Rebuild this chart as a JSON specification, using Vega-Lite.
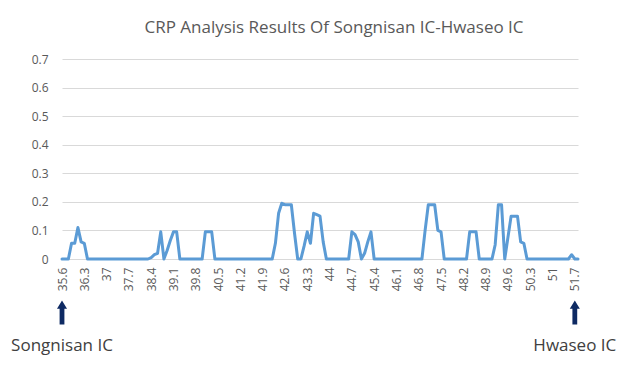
{
  "$schema": "https://vega.github.io/schema/vega-lite/v6.json",
  "autosize": {"type": "none"},
  "padding": {"left": 62, "top": 59, "right": 53, "bottom": 107},
  "width": 516,
  "height": 200,
  "background": "white",
  "config": {"view": {"stroke": null}, "font": "Open Sans"},
  "title": {"text": "CRP Analysis Results Of Songnisan IC-Hwaseo IC", "fontSize": 17, "fontWeight": "normal", "font": "Open Sans", "color": "#595959", "offset": 16, "dx": 14},
  "datasets": {
    "crp": [
      {"km":35.6,"crp":0},{"km":35.7,"crp":0},{"km":35.8,"crp":0},{"km":35.9,"crp":0.055},{"km":36.0,"crp":0.055},{"km":36.1,"crp":0.11},{"km":36.2,"crp":0.06},{"km":36.3,"crp":0.055},{"km":36.4,"crp":0},{"km":36.5,"crp":0},
      {"km":36.6,"crp":0},{"km":36.7,"crp":0},{"km":36.8,"crp":0},{"km":36.9,"crp":0},{"km":37.0,"crp":0},{"km":37.1,"crp":0},{"km":37.2,"crp":0},{"km":37.3,"crp":0},{"km":37.4,"crp":0},{"km":37.5,"crp":0},
      {"km":37.6,"crp":0},{"km":37.7,"crp":0},{"km":37.8,"crp":0},{"km":37.9,"crp":0},{"km":38.0,"crp":0},{"km":38.1,"crp":0},{"km":38.2,"crp":0},{"km":38.3,"crp":0},{"km":38.4,"crp":0.005},{"km":38.5,"crp":0.015},
      {"km":38.6,"crp":0.02},{"km":38.7,"crp":0.095},{"km":38.8,"crp":0},{"km":38.9,"crp":0.03},{"km":39.0,"crp":0.065},{"km":39.1,"crp":0.095},{"km":39.2,"crp":0.095},{"km":39.3,"crp":0},{"km":39.4,"crp":0},{"km":39.5,"crp":0},
      {"km":39.6,"crp":0},{"km":39.7,"crp":0},{"km":39.8,"crp":0},{"km":39.9,"crp":0},{"km":40.0,"crp":0},{"km":40.1,"crp":0.095},{"km":40.2,"crp":0.095},{"km":40.3,"crp":0.095},{"km":40.4,"crp":0},{"km":40.5,"crp":0},
      {"km":40.6,"crp":0},{"km":40.7,"crp":0},{"km":40.8,"crp":0},{"km":40.9,"crp":0},{"km":41.0,"crp":0},{"km":41.1,"crp":0},{"km":41.2,"crp":0},{"km":41.3,"crp":0},{"km":41.4,"crp":0},{"km":41.5,"crp":0},
      {"km":41.6,"crp":0},{"km":41.7,"crp":0},{"km":41.8,"crp":0},{"km":41.9,"crp":0},{"km":42.0,"crp":0},{"km":42.1,"crp":0},{"km":42.2,"crp":0},{"km":42.3,"crp":0.055},{"km":42.4,"crp":0.16},{"km":42.5,"crp":0.195},
      {"km":42.6,"crp":0.19},{"km":42.7,"crp":0.19},{"km":42.8,"crp":0.19},{"km":42.9,"crp":0.09},{"km":43.0,"crp":0},{"km":43.1,"crp":0},{"km":43.2,"crp":0.045},{"km":43.3,"crp":0.095},{"km":43.4,"crp":0.055},{"km":43.5,"crp":0.16},
      {"km":43.6,"crp":0.155},{"km":43.7,"crp":0.15},{"km":43.8,"crp":0.06},{"km":43.9,"crp":0},{"km":44.0,"crp":0},{"km":44.1,"crp":0},{"km":44.2,"crp":0},{"km":44.3,"crp":0},{"km":44.4,"crp":0},{"km":44.5,"crp":0},
      {"km":44.6,"crp":0},{"km":44.7,"crp":0.095},{"km":44.8,"crp":0.085},{"km":44.9,"crp":0.06},{"km":45.0,"crp":0},{"km":45.1,"crp":0.02},{"km":45.2,"crp":0.06},{"km":45.3,"crp":0.095},{"km":45.4,"crp":0},{"km":45.5,"crp":0},
      {"km":45.6,"crp":0},{"km":45.7,"crp":0},{"km":45.8,"crp":0},{"km":45.9,"crp":0},{"km":46.0,"crp":0},{"km":46.1,"crp":0},{"km":46.2,"crp":0},{"km":46.3,"crp":0},{"km":46.4,"crp":0},{"km":46.5,"crp":0},
      {"km":46.6,"crp":0},{"km":46.7,"crp":0},{"km":46.8,"crp":0},{"km":46.9,"crp":0},{"km":47.0,"crp":0.1},{"km":47.1,"crp":0.19},{"km":47.2,"crp":0.19},{"km":47.3,"crp":0.19},{"km":47.4,"crp":0.1},{"km":47.5,"crp":0.095},
      {"km":47.6,"crp":0},{"km":47.7,"crp":0},{"km":47.8,"crp":0},{"km":47.9,"crp":0},{"km":48.0,"crp":0},{"km":48.1,"crp":0},{"km":48.2,"crp":0},{"km":48.3,"crp":0},{"km":48.4,"crp":0.095},{"km":48.5,"crp":0.095},
      {"km":48.6,"crp":0.095},{"km":48.7,"crp":0},{"km":48.8,"crp":0},{"km":48.9,"crp":0},{"km":49.0,"crp":0},{"km":49.1,"crp":0},{"km":49.2,"crp":0.05},{"km":49.3,"crp":0.19},{"km":49.4,"crp":0.19},{"km":49.5,"crp":0},
      {"km":49.6,"crp":0.075},{"km":49.7,"crp":0.15},{"km":49.8,"crp":0.15},{"km":49.9,"crp":0.15},{"km":50.0,"crp":0.06},{"km":50.1,"crp":0.055},{"km":50.2,"crp":0},{"km":50.3,"crp":0},{"km":50.4,"crp":0},{"km":50.5,"crp":0},
      {"km":50.6,"crp":0},{"km":50.7,"crp":0},{"km":50.8,"crp":0},{"km":50.9,"crp":0},{"km":51.0,"crp":0},{"km":51.1,"crp":0},{"km":51.2,"crp":0},{"km":51.3,"crp":0},{"km":51.4,"crp":0},{"km":51.5,"crp":0},
      {"km":51.6,"crp":0.015},{"km":51.7,"crp":0},{"km":51.8,"crp":0}
    ],
    "ic": [
      {"km":35.6,"name":"Songnisan IC"},
      {"km":51.7,"name":"Hwaseo IC"}
    ]
  },
  "layer": [
    {
      "data": {"name": "crp"},
      "mark": {"type": "line", "color": "#5b9bd5", "strokeWidth": 3, "strokeJoin": "round", "strokeCap": "round"},
      "encoding": {
        "x": {
          "field": "km", "type": "quantitative",
          "scale": {"domain": [35.6, 51.8], "nice": false, "zero": false},
          "axis": {
            "title": null,
            "values": [35.6, 36.3, 37, 37.7, 38.4, 39.1, 39.8, 40.5, 41.2, 41.9, 42.6, 43.3, 44, 44.7, 45.4, 46.1, 46.8, 47.5, 48.2, 48.9, 49.6, 50.3, 51, 51.7],
            "tickCount": 100,
            "format": ".1~f",
            "labelAngle": -90,
            "labelFontSize": 12,
            "labelColor": "#595959",
            "labelFont": "Open Sans",
            "labelPadding": 8,
            "ticks": false,
            "grid": false,
            "domainColor": "#d9d9d9",
            "domainWidth": 1,
            "labelOverlap": false,
            "labelFlush": false
          }
        },
        "y": {
          "field": "crp", "type": "quantitative",
          "scale": {"domain": [0, 0.7], "nice": false},
          "axis": {
            "title": null,
            "values": [0, 0.1, 0.2, 0.3, 0.4, 0.5, 0.6, 0.7],
            "tickCount": 100,
            "format": "~g",
            "labelFontSize": 12,
            "labelColor": "#595959",
            "labelFont": "Open Sans",
            "labelPadding": 14,
            "labelOverlap": false,
            "ticks": false,
            "domain": false,
            "gridColor": "#d9d9d9",
            "gridWidth": 1
          }
        }
      }
    },
    {
      "data": {"name": "ic"},
      "mark": {"type": "point", "filled": true, "opacity": 1, "color": "#0e2a63", "shape": "M0,-1L0.42,-0.3L0.2,-0.3L0.2,1L-0.2,1L-0.2,-0.3L-0.42,-0.3Z", "size": 576},
      "encoding": {
        "x": {"field": "km", "type": "quantitative"},
        "y": {"datum": -0.187}
      }
    },
    {
      "data": {"name": "ic"},
      "mark": {"type": "text", "fontSize": 17, "font": "Open Sans", "color": "#404040", "align": "center", "baseline": "middle"},
      "encoding": {
        "x": {"field": "km", "type": "quantitative"},
        "y": {"datum": -0.305},
        "text": {"field": "name"}
      }
    }
  ]
}
